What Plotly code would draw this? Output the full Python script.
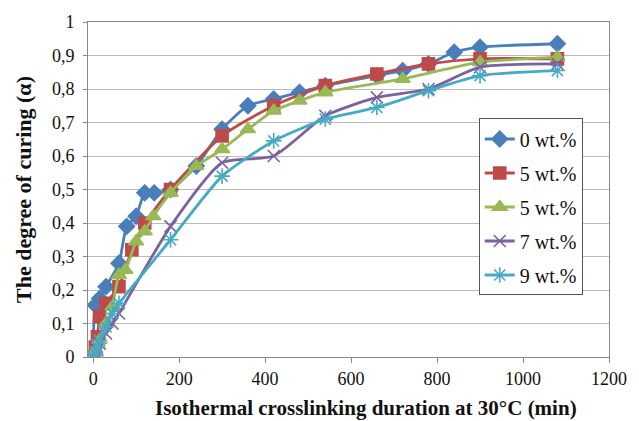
import plotly.graph_objects as go

# Curing time (min) and degree of curing for each filler loading
t_0 = [0, 5, 15, 30, 60, 78, 100, 120, 142, 180, 240, 300, 360, 420, 480, 540, 660, 720, 780, 840, 900, 1080]
a_0 = [0, 0.155, 0.175, 0.21, 0.28, 0.39, 0.42, 0.49, 0.49, 0.50, 0.57, 0.68, 0.75, 0.77, 0.79, 0.81, 0.84, 0.855, 0.875, 0.91, 0.925, 0.935]

t_5a = [0, 5, 10, 15, 30, 60, 90, 120, 180, 300, 420, 540, 660, 780, 900, 1080]
a_5a = [0, 0.03, 0.06, 0.12, 0.16, 0.21, 0.32, 0.40, 0.50, 0.66, 0.75, 0.81, 0.845, 0.875, 0.89, 0.89]

t_5b = [0, 5, 15, 30, 45, 60, 75, 100, 120, 140, 180, 240, 300, 360, 420, 480, 540, 720, 900, 1080]
a_5b = [0, 0.02, 0.05, 0.10, 0.15, 0.245, 0.26, 0.345, 0.375, 0.42, 0.49, 0.57, 0.62, 0.68, 0.735, 0.765, 0.79, 0.83, 0.88, 0.895]

t_7 = [0, 5, 10, 15, 30, 45, 60, 180, 300, 420, 540, 660, 780, 900, 1080]
a_7 = [0, 0.01, 0.02, 0.04, 0.07, 0.10, 0.13, 0.39, 0.58, 0.60, 0.72, 0.775, 0.80, 0.865, 0.875]

t_9 = [0, 5, 10, 15, 30, 45, 60, 180, 300, 420, 540, 660, 780, 900, 1080]
a_9 = [0, 0.01, 0.03, 0.05, 0.09, 0.13, 0.16, 0.35, 0.54, 0.645, 0.71, 0.745, 0.795, 0.84, 0.855]

series_names = ["0 wt.%", "5 wt.%", "5 wt.%", "7 wt.%", "9 wt.%"]
series_t = [t_0, t_5a, t_5b, t_7, t_9]
series_a = [a_0, a_5a, a_5b, a_7, a_9]

colors = ["#4A7EBB", "#BE4B48", "#98B954", "#7D60A0", "#46AAC5"]
symbols = ["diamond", "square", "triangle-up", "x-thin-open", "asterisk-open"]
msizes = [12, 12, 13, 12, 13]

y_ticks = [0, 0.1, 0.2, 0.3, 0.4, 0.5, 0.6, 0.7, 0.8, 0.9, 1.0]
y_tick_text = ["0", "0,1", "0,2", "0,3", "0,4", "0,5", "0,6", "0,7", "0,8", "0,9", "1"]
x_ticks = [0, 200, 400, 600, 800, 1000, 1200]

x_title = "Isothermal crosslinking duration at 30°C (min)"
y_title = "The degree of curing (α)"

serif = "Liberation Serif"

fig = go.Figure()
for i in range(5):
    fig.add_trace(go.Scatter(
        x=series_t[i], y=series_a[i], name=series_names[i],
        mode="lines+markers",
        line=dict(color=colors[i], width=2.8, shape="spline", smoothing=0.6),
        marker=dict(symbol=symbols[i], size=msizes[i], color=colors[i],
                    line=dict(color=colors[i], width=1.6)),
        legendgroup=str(i),
    ))

# x-axis caption, placed slightly right of the plot centre
fig.add_annotation(
    text="<b>" + x_title + "</b>", xref="paper", yref="paper",
    x=0.533, y=-0.152, xanchor="center", yanchor="middle", showarrow=False,
    font=dict(family=serif, size=21, color="#111111"),
)

fig.update_layout(
    width=639, height=421,
    margin=dict(l=88, r=22, t=22, b=64),
    paper_bgcolor="white", plot_bgcolor="white",
    font=dict(family=serif, size=18, color="#111111"),
    showlegend=True,
    legend=dict(
        x=0.75, y=0.712, xanchor="left", yanchor="top",
        bgcolor="white", bordercolor="#555555", borderwidth=1,
        font=dict(family=serif, size=20, color="#111111"),
        tracegroupgap=5, traceorder="grouped",
    ),
    xaxis=dict(
        range=[-12, 1200], tickvals=x_ticks, showgrid=False, zeroline=False,
        ticks="outside", ticklen=5, tickcolor="#888888",
        showline=True, linecolor="#888888", linewidth=1, mirror=True,
        tickfont=dict(family=serif, size=18),
    ),
    yaxis=dict(
        range=[0, 1.0], tickvals=y_ticks, ticktext=y_tick_text,
        showgrid=True, gridcolor="#BBBBBB", gridwidth=1, zeroline=False,
        ticks="outside", ticklen=4, tickcolor="#888888",
        ticklabelstandoff=5,
        showline=True, linecolor="#888888", linewidth=1, mirror=True,
        tickfont=dict(family=serif, size=18),
        title=dict(text="<b>" + y_title + "</b>",
                   font=dict(family=serif, size=22), standoff=14),
    ),
)

fig.write_html("out.html")
